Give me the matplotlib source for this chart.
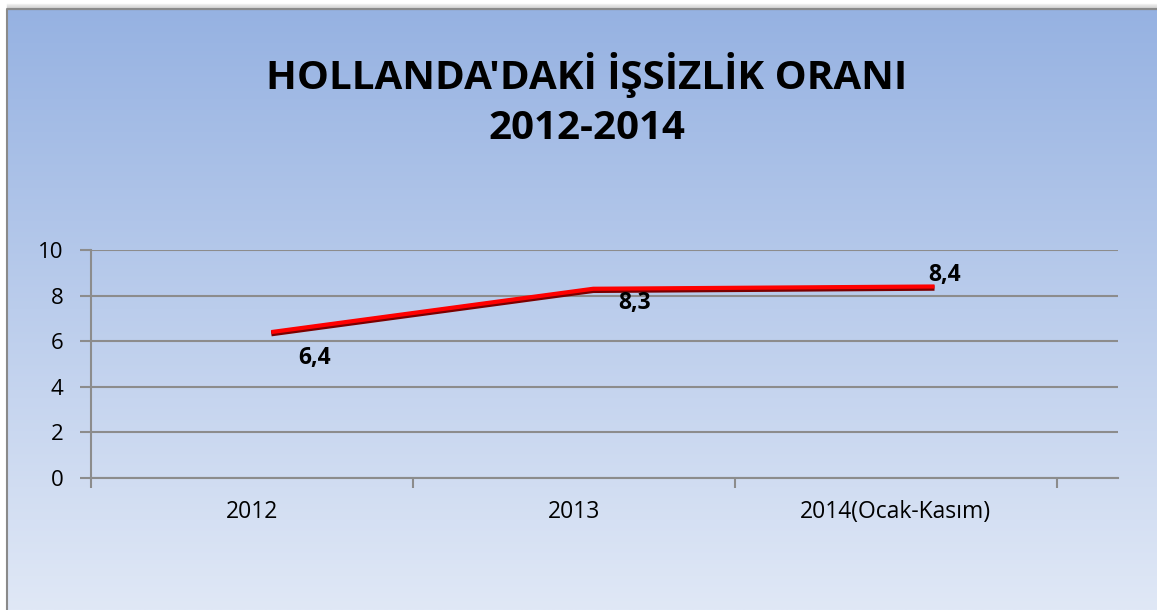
import numpy as np
import matplotlib
matplotlib.use("Agg")
import matplotlib.pyplot as plt
import matplotlib.transforms as mtransforms

categories = ["2012", "2013", "2014(Ocak-Kasım)"]
values = [6.4, 8.3, 8.4]
value_labels = ["6,4", "8,3", "8,4"]
yticks = [0, 2, 4, 6, 8, 10]
title = "HOLLANDA'DAKİ İŞSİZLİK ORANI\n2012-2014"

W, H, DPI = 1157, 610, 100
fig = plt.figure(figsize=(W / DPI, H / DPI), dpi=DPI)
fig.patch.set_facecolor("white")

# gradient background with frame
bg = fig.add_axes([0, 0, 1, 1], zorder=-10)
bg.set_xlim(0, W); bg.set_ylim(H, 0); bg.axis("off")
top = np.array([150, 178, 226]) / 255
bot = np.array([224, 232, 246]) / 255
t = np.linspace(0, 1, 256)[:, None]
grad = top[None, None, :] * (1 - t[..., None]) + bot[None, None, :] * t[..., None]
grad = np.repeat(grad, 2, axis=1)
bg.imshow(grad, extent=[7, W, H, 9], aspect="auto", interpolation="bilinear")
for i in range(6):
    bg.plot([7, W], [9 - i, 9 - i], color=(0.5, 0.5, 0.5, 0.35 - i * 0.05), lw=1)
bg.plot([7, 7, W], [H, 9, 9], color="#8a8a8a", lw=1.5)

fig.text(0.507, 1 - 100 / H, title, ha="center", va="center", fontsize=29,
         fontweight="bold", family="Open Sans", linespacing=1.38)

ax = fig.add_axes([91 / W, 1 - 478 / H, (1118 - 91) / W, (478 - 250) / H])
ax.set_facecolor("none")
x = np.arange(len(categories))
ax.set_xlim(-0.5, len(categories) - 0.5 + 0.19)
ax.set_ylim(0, 10)
ax.set_yticks(yticks)
ax.set_yticklabels([str(v) for v in yticks], fontsize=16, family="Open Sans")
ax.set_xticks(x)
ax.set_xticklabels(categories, fontsize=16.5, family="Open Sans")
ax.tick_params(axis="x", length=0, pad=16)
ax.set_xticks(np.arange(len(categories) + 1) - 0.5, minor=True)
ax.tick_params(axis="x", which="minor", length=7, width=1.5, color="#8c8c8c", direction="out")
ax.tick_params(axis="y", length=8, width=1.5, color="#8c8c8c", pad=12)
ax.grid(axis="y", color="#8c8c8c", lw=1.5)
ax.set_axisbelow(True)
for s in ["top", "right"]:
    ax.spines[s].set_visible(False)
for s in ["left", "bottom"]:
    ax.spines[s].set_color("#8c8c8c")
    ax.spines[s].set_linewidth(1.5)

xs = x + np.array([0.06, 0.06, 0.12])
shadow = mtransforms.offset_copy(ax.transData, fig=fig, x=0, y=-1.5, units="dots")
ax.plot(xs, values, color="#7a0000", lw=4, transform=shadow, zorder=3, solid_capstyle="butt")
ax.plot(xs, values, color="#ff0000", lw=3, zorder=4, solid_capstyle="butt")

offs = [(31, -19), (29.5, -10), (7, 8)]
for xi, v, lab, (dx, dy) in zip(xs, values, value_labels, offs):
    ax.annotate(lab, (xi, v), xytext=(dx, dy), textcoords="offset points",
                ha="center", va="center", fontsize=16.5, fontweight="bold", family="Open Sans")

fig.savefig("out.png", dpi=DPI)
